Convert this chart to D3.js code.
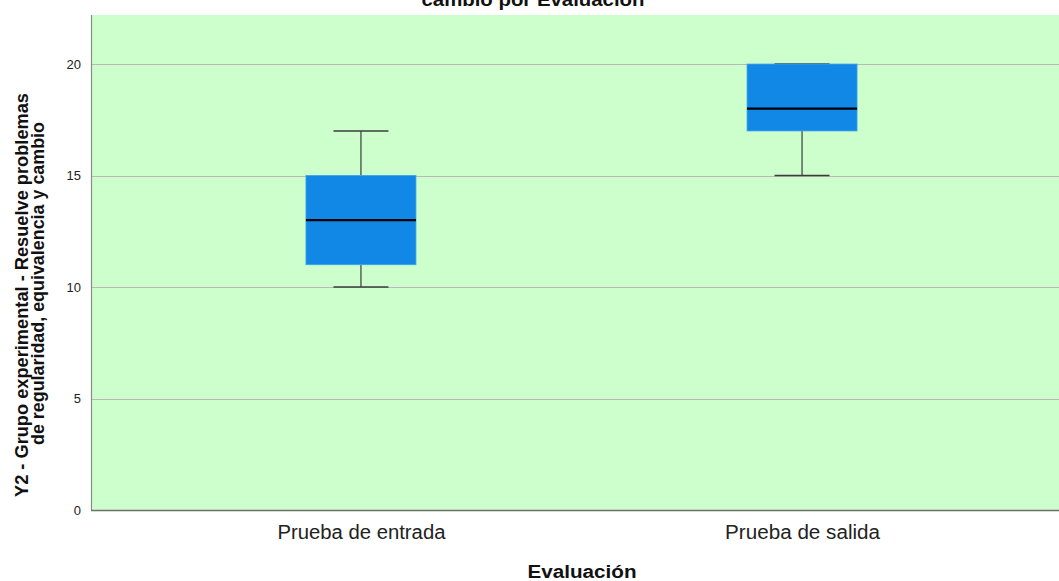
<!DOCTYPE html>
<html>
<head>
<meta charset="utf-8">
<script src="https://cdn.jsdelivr.net/npm/d3@7"></script>
<style>
  html, body { margin: 0; padding: 0; background: #ffffff; }
  svg { display: block; font-family: "Liberation Sans", Arial, sans-serif; }
</style>
</head>
<body>
<svg id="chart" width="1059" height="581"></svg>
<script>
// Boxplot summaries per evaluation (min, Q1, median, Q3, max)
const categories = ["Prueba de entrada", "Prueba de salida"];
const minValues    = [10, 15];
const q1Values     = [11, 17];
const medianValues = [13, 18];
const q3Values     = [15, 20];
const maxValues    = [17, 20];
const yTicks = [0, 5, 10, 15, 20];

const titleLines = ["cambio por Evaluación"];
const yLabelLines = ["Y2 - Grupo experimental - Resuelve problemas",
                     "de regularidad, equivalencia y cambio"];
const xLabel = "Evaluación";

const svg = d3.select("#chart");

const plot = { left: 91, right: 1072, top: 15, bottom: 510 };

const x = d3.scalePoint()
  .domain(categories)
  .range([plot.left, plot.right])
  .padding(0.612);

const y = d3.scaleLinear()
  .domain([0, 22.2])
  .range([plot.bottom, plot.top]);

// plot background
svg.append("rect")
  .attr("x", plot.left).attr("y", plot.top)
  .attr("width", plot.right - plot.left).attr("height", plot.bottom - plot.top)
  .attr("fill", "#ccffcc");

// horizontal grid
svg.append("g").selectAll("line")
  .data(yTicks.filter(d => d > 0))
  .join("line")
  .attr("x1", plot.left).attr("x2", plot.right)
  .attr("y1", d => Math.round(y(d)) + 0.5).attr("y2", d => Math.round(y(d)) + 0.5)
  .attr("stroke", "#b9b9b9").attr("stroke-width", 1.2);

// y axis
const yAxis = svg.append("g")
  .attr("transform", `translate(${plot.left},0)`)
  .call(d3.axisLeft(y).tickValues(yTicks).tickSize(0).tickPadding(10));
yAxis.select(".domain").remove();
yAxis.selectAll("text")
  .attr("font-size", 13).attr("fill", "#222")
  .attr("font-family", "Liberation Sans, Arial, sans-serif");

// x axis
const tickWidths = { "Prueba de entrada": 168, "Prueba de salida": 155 };
const xAxis = svg.append("g")
  .attr("transform", `translate(0,${plot.bottom})`)
  .call(d3.axisBottom(x).tickSize(0).tickPadding(0));
xAxis.select(".domain").remove();
xAxis.selectAll("text")
  .attr("dy", null).attr("y", 29)
  .attr("font-size", 19.5).attr("fill", "#222")
  .attr("textLength", d => tickWidths[d])
  .attr("lengthAdjust", "spacingAndGlyphs")
  .attr("font-family", "Liberation Sans, Arial, sans-serif");

// axis lines
svg.append("line")
  .attr("x1", plot.left + 0.5).attr("x2", plot.left + 0.5)
  .attr("y1", plot.top).attr("y2", plot.bottom)
  .attr("stroke", "#8a8a8a").attr("stroke-width", 1.2);
svg.append("line")
  .attr("x1", plot.left).attr("x2", plot.right)
  .attr("y1", plot.bottom + 0.5).attr("y2", plot.bottom + 0.5)
  .attr("stroke", "#6e6e6e").attr("stroke-width", 1.4);

// boxes
const boxWidth = 110, capWidth = 55;
const data = categories.map((c, i) => ({
  c, min: minValues[i], q1: q1Values[i], med: medianValues[i], q3: q3Values[i], max: maxValues[i]
}));

const g = svg.append("g").selectAll("g").data(data).join("g")
  .attr("transform", d => `translate(${x(d.c)},0)`);

// whiskers
g.append("line")
  .attr("x1", 0).attr("x2", 0)
  .attr("y1", d => y(d.max)).attr("y2", d => y(d.q3))
  .attr("stroke", "#3c3c3c").attr("stroke-width", 1.2);
g.append("line")
  .attr("x1", 0).attr("x2", 0)
  .attr("y1", d => y(d.q1)).attr("y2", d => y(d.min))
  .attr("stroke", "#3c3c3c").attr("stroke-width", 1.2);
g.append("line")
  .attr("x1", -capWidth / 2).attr("x2", capWidth / 2)
  .attr("y1", d => y(d.max)).attr("y2", d => y(d.max))
  .attr("stroke", "#3c3c3c").attr("stroke-width", 1.4);
g.append("line")
  .attr("x1", -capWidth / 2).attr("x2", capWidth / 2)
  .attr("y1", d => y(d.min)).attr("y2", d => y(d.min))
  .attr("stroke", "#3c3c3c").attr("stroke-width", 1.4);

// box body
g.append("rect")
  .attr("x", -boxWidth / 2).attr("width", boxWidth)
  .attr("y", d => y(d.q3)).attr("height", d => y(d.q1) - y(d.q3))
  .attr("fill", "#1288e6").attr("stroke", "#3fa0ee").attr("stroke-width", 0.8);

// median
g.append("line")
  .attr("x1", -boxWidth / 2).attr("x2", boxWidth / 2)
  .attr("y1", d => y(d.med)).attr("y2", d => y(d.med))
  .attr("stroke", "#000").attr("stroke-width", 2.4);

// title (upper lines run past the top edge)
svg.append("g").selectAll("text").data(titleLines).join("text")
  .attr("x", 533).attr("y", (d, i) => 6 - (titleLines.length - 1 - i) * 20)
  .attr("text-anchor", "middle")
  .attr("font-size", 19).attr("font-weight", "bold").attr("fill", "#111")
  .attr("textLength", 223).attr("lengthAdjust", "spacingAndGlyphs")
  .text(d => d);

// y label
const yLabelPos = [{ x: 28, cy: 295, len: 404 }, { x: 44, cy: 283.5, len: 323 }];
svg.append("g").selectAll("text").data(yLabelLines).join("text")
  .attr("transform", (d, i) => `translate(${yLabelPos[i].x},${yLabelPos[i].cy}) rotate(-90)`)
  .attr("text-anchor", "middle")
  .attr("font-size", 18).attr("font-weight", "bold").attr("fill", "#111")
  .attr("textLength", (d, i) => yLabelPos[i].len)
  .attr("lengthAdjust", "spacingAndGlyphs")
  .text(d => d);

// x label
svg.append("text")
  .attr("x", 582).attr("y", 577.5)
  .attr("text-anchor", "middle")
  .attr("font-size", 18).attr("font-weight", "bold").attr("fill", "#111")
  .attr("textLength", 109).attr("lengthAdjust", "spacingAndGlyphs")
  .text(xLabel);
</script>
</body>
</html>
